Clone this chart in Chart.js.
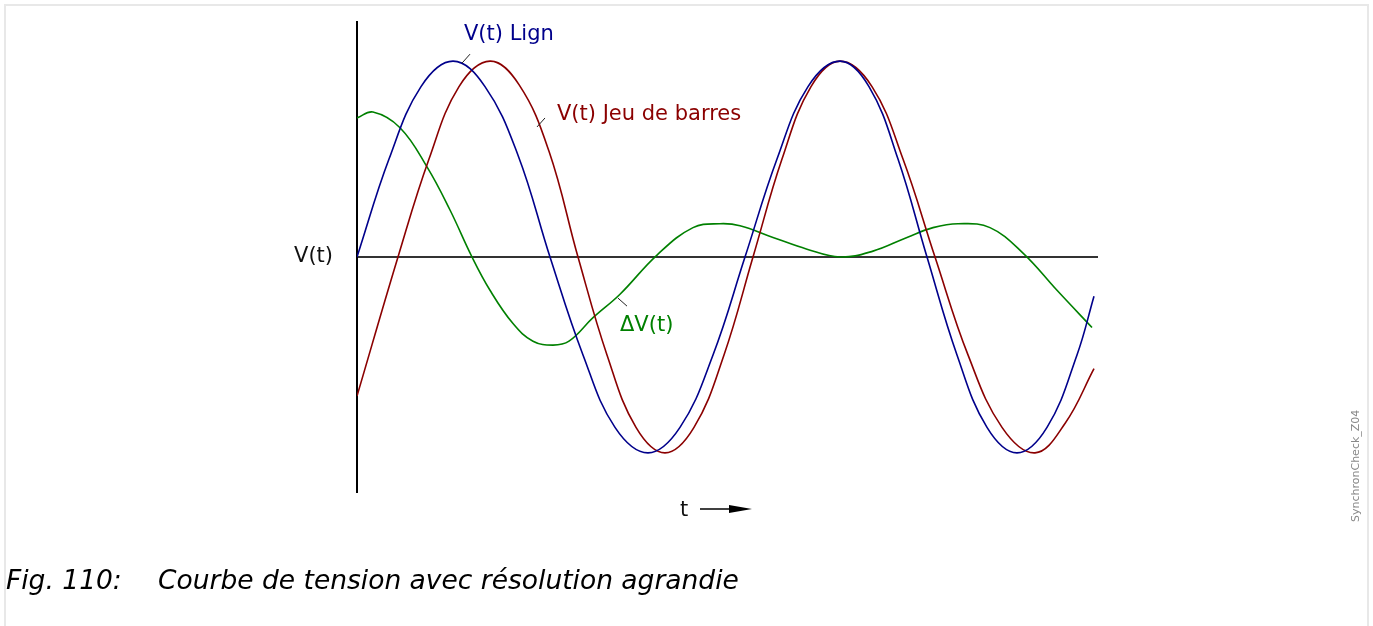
<!DOCTYPE html>
<html>
<head>
<meta charset="utf-8">
<script src="https://cdn.jsdelivr.net/npm/chart.js@4.4.1/dist/chart.umd.min.js"></script>
<style>
  html, body { margin: 0; padding: 0; background: #fff; overflow: hidden; }
  #frame { position: absolute; left: 4px; top: 4px; width: 1361px; height: 700px;
           border: 2px solid #e8e8e8; border-bottom: none; }
  #chart { position: absolute; left: 0; top: 0; }
  .caption { position: absolute; top: 564px; font: italic 26.5px "DejaVu Sans"; color: #000; white-space: nowrap; }
</style>
</head>
<body>
<div id="frame"></div>
<canvas id="chart" width="1373" height="626"></canvas>
<div class="caption" style="left:6px">Fig. 110:</div>
<div class="caption" style="left:158px">Courbe de tension avec résolution agrandie</div>
<script>
// time axis (ms) and voltages, normalised to the peak value
const tLigne  = [0, 3.2, 6.4, 9.6, 12.8, 16.1, 19.3, 22.6, 25.8, 29.1, 32.3, 35.6, 38.8, 42.0, 45.1, 48.3, 51.2, 54.1, 57.0, 60.0, 63.0, 66.0, 69.0, 72.0, 73.7];
const vLigne  = [0, 0.50, 0.87, 1.00, 0.87, 0.52, 0, -0.50, -0.87, -1.00, -0.87, -0.50, 0, 0.50, 0.87, 1.00, 0.87, 0.50, 0, -0.50, -0.87, -1.00, -0.87, -0.50, -0.20];

const tBarres = [0, 4.1, 7.2, 10.2, 13.3, 16.2, 19.2, 22.1, 25.0, 27.9, 30.8, 33.7, 36.7, 39.6, 42.5, 45.4, 48.3, 51.5, 54.6, 57.8, 61.1, 64.5, 67.8, 70.8, 73.7];
const vBarres = [-0.71, 0, 0.50, 0.87, 1.00, 0.88, 0.54, 0, -0.50, -0.87, -1.00, -0.87, -0.50, 0, 0.50, 0.87, 1.00, 0.87, 0.50, 0, -0.50, -0.87, -1.00, -0.85, -0.57];

const tDelta  = [0, 1.6, 4.3, 7.0, 9.3, 11.5, 13.3, 15.6, 17.6, 19.6, 21.2, 23.6, 26.3, 30.0, 33.6, 36.3, 38.3, 41.6, 45.0, 48.3, 51.6, 55.0, 57.6, 60.1, 63.3, 66.6, 70.0, 73.5];
const vDelta  = [0.71, 0.74, 0.66, 0.46, 0.24, 0, -0.17, -0.34, -0.43, -0.45, -0.43, -0.31, -0.19, 0.01, 0.15, 0.17, 0.16, 0.10, 0.04, 0, 0.03, 0.10, 0.15, 0.17, 0.15, 0.02, -0.17, -0.36];

const seriesNames  = ['V(t) Lign', 'V(t) Jeu de barres', 'ΔV(t)'];
const seriesColors = ['#00008b', '#8b0000', '#008000'];

function points(ts, vs) {
  return ts.map((t, i) => ({ x: t, y: vs[i] }));
}

// curve labels with their short leader lines, anchored on the curve
const curveLabels = {
  id: 'curveLabels',
  afterDraw(chart) {
    const ctx = chart.ctx;
    const xs = chart.scales.x, ys = chart.scales.y;
    const area = chart.chartArea;
    const notes = [
      { i: 0, t: 10.5, v: 0.99,  lx: 8,  ly: -9, tx: 2,   ty: -23 },
      { i: 1, t: 18.0, v: 0.664, lx: 8,  ly: -9, tx: 20,  ty: -7 },
      { i: 2, t: 26.1, v: -0.21, lx: 9,  ly: 8,  tx: 2,   ty: 33 }
    ];
    ctx.save();
    ctx.font = '21px "DejaVu Sans"';
    ctx.textBaseline = 'alphabetic';
    notes.forEach(n => {
      const px = xs.getPixelForValue(n.t), py = ys.getPixelForValue(n.v);
      ctx.strokeStyle = '#222';
      ctx.lineWidth = 1;
      ctx.beginPath();
      ctx.moveTo(px, py);
      ctx.lineTo(px + n.lx, py + n.ly);
      ctx.stroke();
      ctx.fillStyle = seriesColors[n.i];
      ctx.textAlign = 'left';
      ctx.fillText(seriesNames[n.i], px + n.tx, py + n.ty);
    });

    // axis names
    ctx.fillStyle = '#111';
    ctx.textAlign = 'right';
    ctx.fillText('V(t)', area.left - 24, ys.getPixelForValue(0) + 5);
    const tx = (area.left + area.right) / 2 - 47;
    const ty = area.bottom + 24;
    ctx.textAlign = 'left';
    ctx.fillText('t', tx, ty);
    ctx.strokeStyle = '#000';
    ctx.lineWidth = 1.5;
    ctx.beginPath();
    ctx.moveTo(tx + 20, ty - 7);
    ctx.lineTo(tx + 52, ty - 7);
    ctx.stroke();
    ctx.fillStyle = '#000';
    ctx.beginPath();
    ctx.moveTo(tx + 49, ty - 11);
    ctx.lineTo(tx + 72, ty - 7);
    ctx.lineTo(tx + 49, ty - 3);
    ctx.closePath();
    ctx.fill();

    // drawing reference, rotated along the right edge
    ctx.translate(1359, 522);
    ctx.rotate(-Math.PI / 2);
    ctx.font = '11px "DejaVu Sans"';
    ctx.fillStyle = '#888';
    ctx.fillText('SynchronCheck_Z04', 0, 0);
    ctx.restore();
  }
};

const lineStyle = {
  borderWidth: 1.6,
  pointRadius: 0,
  fill: false,
  tension: 0.4
};

new Chart(document.getElementById('chart').getContext('2d'), {
  type: 'line',
  data: {
    datasets: [
      Object.assign({ label: seriesNames[0], data: points(tLigne, vLigne), borderColor: seriesColors[0] }, lineStyle),
      Object.assign({ label: seriesNames[1], data: points(tBarres, vBarres), borderColor: seriesColors[1] }, lineStyle),
      Object.assign({ label: seriesNames[2], data: points(tDelta, vDelta), borderColor: seriesColors[2] }, lineStyle)
    ]
  },
  options: {
    responsive: false,
    animation: false,
    layout: { padding: { left: 357, right: 276, top: 22, bottom: 134 } },
    plugins: { legend: { display: false }, tooltip: { enabled: false } },
    scales: {
      x: {
        type: 'linear', min: 0, max: 74,
        position: { y: 0 },
        grid: { display: false },
        ticks: { display: false },
        border: { display: true, color: '#333', width: 2 },
        afterFit: s => { s.height = 0; }
      },
      y: {
        min: -1.2, max: 1.2,
        grid: { display: false },
        ticks: { display: false },
        border: { display: true, color: '#000', width: 2 },
        afterFit: s => { s.width = 0; }
      }
    }
  },
  plugins: [curveLabels]
});
</script>
</body>
</html>
